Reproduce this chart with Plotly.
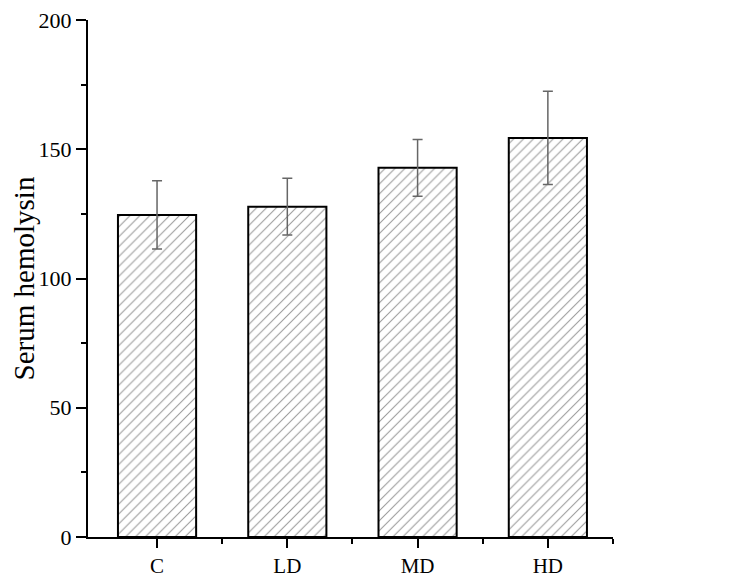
import plotly.graph_objects as go

groups = ["C", "LD", "MD", "HD"]
hemolysin = [124.6, 127.8, 142.8, 154.4]
hemolysin_err = [13.2, 11.0, 11.0, 18.0]

positions = list(range(len(groups)))

fig = go.Figure()
fig.add_trace(go.Bar(
    x=positions,
    y=hemolysin,
    width=0.6,
    marker=dict(
        color="white",
        line=dict(color="black", width=2),
        pattern=dict(shape="/", size=7, fgcolor="#333333", solidity=0.15),
    ),
    error_y=dict(type="data", array=hemolysin_err, visible=True,
                 color="#666666", thickness=1.5, width=5),
    showlegend=False,
))

serif = "Liberation Serif, Times New Roman, serif"
# page body has an 8px margin, so the plot area is nudged up/left to match
fig.update_layout(
    width=739, height=583,
    margin=dict(l=80, r=134, t=12, b=54, autoexpand=False),
    plot_bgcolor="white", paper_bgcolor="white",
    font=dict(family=serif, size=22, color="black"),
)
fig.update_xaxes(
    range=[-0.53, 3.5], automargin=False,
    tickvals=positions, ticktext=groups,
    showline=True, linecolor="black", linewidth=2,
    ticks="outside", ticklen=9, tickwidth=2, tickcolor="black",
    minor=dict(tickvals=[0.5, 1.5, 2.5, 3.5], ticks="outside", ticklen=5,
               tickwidth=2, tickcolor="black"),
    showgrid=False, zeroline=False,
    tickfont=dict(size=21), ticklabeloverflow="allow",
)
fig.update_yaxes(
    range=[0, 200], automargin=False,
    tickvals=[0, 50, 100, 150, 200],
    showline=True, linecolor="black", linewidth=2,
    ticks="outside", ticklen=10, tickwidth=2, tickcolor="black",
    minor=dict(tickvals=[25, 75, 125, 175], ticks="outside", ticklen=5,
               tickwidth=2, tickcolor="black"),
    showgrid=False, zeroline=False,
    title=dict(text="Serum hemolysin", font=dict(size=29), standoff=8),
    tickfont=dict(size=22), ticklabeloverflow="allow",
)

fig.write_html("out.html")
